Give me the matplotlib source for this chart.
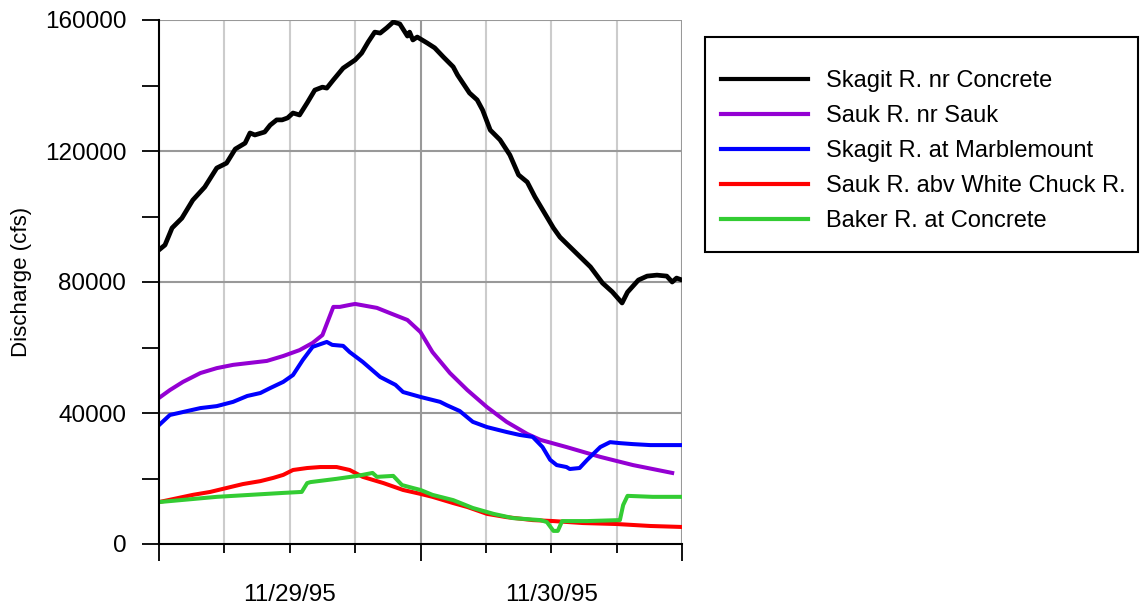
import matplotlib.pyplot as plt
from matplotlib.patches import Rectangle
from matplotlib.ticker import MultipleLocator, FixedLocator, NullFormatter, FixedFormatter

plt.rcParams['font.family'] = ['Liberation Sans', 'DejaVu Sans']

# hours since 11/29/95 00:00
skagit_concrete_h = [0, 0.55, 1.2, 2.1, 3.1, 4.2, 5.3, 6.2, 7.0, 7.9, 8.35, 8.8, 9.7, 10.2, 10.8,
                     11.3, 11.8, 12.3, 12.9, 13.6, 14.3, 15.0, 15.4, 16.0, 16.9, 18.0, 18.6, 19.2,
                     19.8, 20.3, 20.9, 21.5, 22.1, 22.8, 23.0, 23.3, 23.7, 24.6, 25.3, 26.1, 27.0,
                     27.4, 28.5, 29.2, 29.7, 30.4, 31.3, 32.2, 33.0, 33.8, 34.5, 36.2, 36.8, 38.0,
                     39.6, 40.7, 41.6, 42.5, 43.0, 44.0, 44.8, 45.7, 46.6, 47.1, 47.5, 48.0]
skagit_concrete = [89800, 91300, 96500, 99500, 105000, 109000, 114800, 116300, 120600, 122400,
                   125500, 124900, 125800, 127900, 129500, 129500, 130100, 131600, 131000, 134700,
                   138600, 139500, 139200, 141700, 145300, 147800, 149900, 153300, 156300, 156000,
                   157600, 159400, 158800, 155100, 156300, 153900, 154800, 153000, 151500, 148700,
                   145700, 143200, 137700, 135600, 132500, 126400, 123400, 118800, 112700, 110500,
                   106000, 96500, 93700, 89800, 84600, 79700, 77000, 73600, 76900, 80600, 81800,
                   82100, 81800, 80000, 81200, 80600]

sauk_nr_h = [0, 1.0, 2.2, 3.8, 5.3, 6.8, 8.35, 9.9, 11.4, 12.9, 14.1, 15.0, 16.0, 16.6, 17.5,
             18.0, 20.0, 21.2, 22.8, 24.0, 25.1, 26.7, 28.3, 30.1, 31.9, 33.8, 35.0, 37.4,
             40.5, 43.5, 47.1]
sauk_nr = [44600, 47000, 49500, 52200, 53700, 54700, 55300, 55900, 57400, 59200, 61400, 63800,
           72400, 72400, 73000, 73300, 72100, 70500, 68400, 64700, 58600, 52200, 47000, 41800,
           37300, 33600, 31800, 29600, 26600, 24100, 21700]

marble_h = [0, 1.0, 2.2, 3.8, 5.3, 6.8, 8.1, 9.3, 10.2, 11.4, 12.3, 13.2, 14.1, 15.4, 15.9,
            16.9, 17.5, 18.7, 20.3, 21.7, 22.4, 24.0, 25.8, 26.4, 27.6, 28.8, 30.1, 31.9, 33.1,
            34.3, 35.2, 35.9, 36.5, 37.4, 37.7, 38.6, 39.3, 40.5, 41.4, 42.3, 43.5, 45.1, 46.6, 48.0]
marble = [36300, 39400, 40300, 41500, 42100, 43400, 45200, 46100, 47600, 49500, 51600, 56200,
          60200, 61700, 60800, 60500, 58600, 55600, 51000, 48600, 46400, 44900, 43400, 42400,
          40600, 37300, 35700, 34200, 33300, 32700, 29600, 25700, 24100, 23500, 22900, 23200,
          25700, 29600, 31100, 30800, 30500, 30200, 30200, 30200]

sauk_wc_h = [0, 1.7, 3.1, 4.7, 6.2, 7.7, 9.3, 10.5, 11.4, 12.3, 13.6, 14.8, 16.3, 17.5, 18.7,
             20.6, 22.4, 24.0, 25.1, 27.0, 28.3, 30.1, 31.9, 34.3, 36.2, 38.9, 42.0, 45.1, 48.0]
sauk_wc = [12800, 14000, 15000, 15900, 17100, 18300, 19200, 20200, 21100, 22600, 23200, 23500,
           23500, 22600, 20500, 18600, 16500, 15300, 14400, 12500, 11300, 9200, 8200, 7300,
           7000, 6400, 6100, 5500, 5200]

baker_h = [0, 5.3, 8.35, 11.4, 13.1, 13.6, 13.9, 16.3, 18.2, 19.6, 20.0, 21.5, 22.3, 23.3,
           24.0, 25.1, 27.0, 28.8, 30.7, 32.5, 35.0, 35.6, 36.2, 36.6, 37.0, 39.3, 42.3, 42.6,
           43.0, 45.3, 48.0]
baker = [12800, 14400, 15000, 15600, 15900, 18600, 18900, 19900, 20800, 21700, 20500, 20800,
         18000, 17100, 16500, 15000, 13400, 11000, 9200, 7900, 7300, 6700, 4000, 4000, 7000,
         7000, 7300, 11900, 14700, 14400, 14400]

labels = ['Skagit R. nr Concrete', 'Sauk R. nr Sauk', 'Skagit R. at Marblemount',
          'Sauk R. abv White Chuck R.', 'Baker R. at Concrete']
colors = ['black', '#9400d3', '#0000ff', '#ff0000', '#33cc33']

fig = plt.figure(figsize=(11.47, 6.08), dpi=100)
ax = fig.add_axes([159 / 1147, 1 - 544 / 608, 523 / 1147, 524 / 608])

ax.plot(skagit_concrete_h, skagit_concrete, color=colors[0], lw=3.4, label=labels[0])
ax.plot(sauk_nr_h, sauk_nr, color=colors[1], lw=2.9, label=labels[1])
ax.plot(marble_h, marble, color=colors[2], lw=2.9, label=labels[2])
ax.plot(sauk_wc_h, sauk_wc, color=colors[3], lw=2.9, label=labels[3])
ax.plot(baker_h, baker, color=colors[4], lw=2.9, label=labels[4])

ax.set_xlim(0, 48)
ax.set_ylim(0, 160000)

# grid
for h in [6, 12, 18, 30, 36, 42]:
    ax.axvline(h, color='#cccccc', lw=1.5, zorder=0)
for h in [24, 48]:
    ax.axvline(h, color='#999999', lw=1.5, zorder=0)
for v in [40000, 80000, 120000, 160000]:
    ax.axhline(v, color='#999999', lw=1.5, zorder=0)

ax.spines['top'].set_visible(False)
ax.spines['right'].set_visible(False)
ax.spines['left'].set_linewidth(1.5)
ax.spines['bottom'].set_linewidth(1.5)

ax.yaxis.set_major_locator(MultipleLocator(40000))
ax.yaxis.set_minor_locator(MultipleLocator(20000))
ax.tick_params(axis='y', which='both', direction='out', length=12.5, width=1.3,
               labelsize=17.5, pad=11)

ax.xaxis.set_major_locator(FixedLocator([0, 24, 48]))
ax.xaxis.set_major_formatter(NullFormatter())
ax.xaxis.set_minor_locator(FixedLocator([6, 12, 18, 30, 36, 42]))
ax.xaxis.set_minor_formatter(FixedFormatter(['', '11/29/95', '', '', '11/30/95', '']))
ax.tick_params(axis='x', which='major', direction='out', length=12.5, width=1.3)
ax.tick_params(axis='x', which='minor', direction='out', length=6.5, width=1.3,
               labelsize=17.5, pad=22)

ax.set_ylabel('Discharge (cfs)', fontsize=16, labelpad=9)

# legend box drawn separately (asymmetric padding)
fig.patches.append(Rectangle((705 / 1147, 1 - 252 / 608), 433 / 1147, 215 / 608,
                             transform=fig.transFigure, fill=False, edgecolor='black',
                             linewidth=1.5))
leg = fig.legend(loc='upper left', bbox_to_anchor=(721 / 1147, 1 - 70 / 608),
                 fontsize=17, frameon=False, handlelength=3.7, handletextpad=0.75,
                 labelspacing=0.55, borderpad=0, borderaxespad=0)
for line in leg.get_lines():
    line.set_linewidth(3)

fig.savefig('out.png', dpi=100)
